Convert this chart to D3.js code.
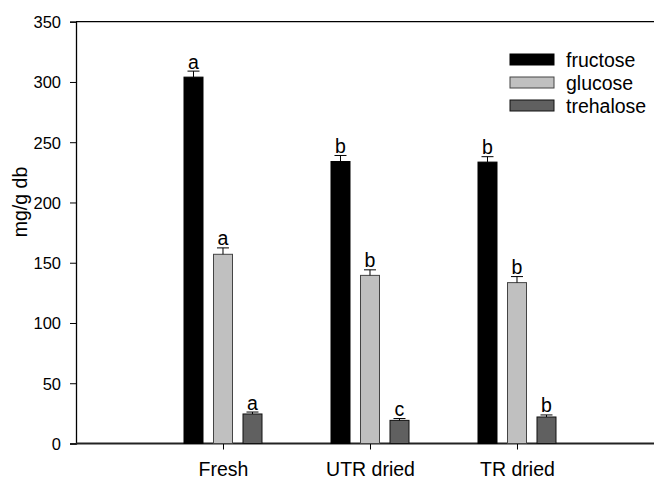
<!DOCTYPE html>
<html><head><meta charset="utf-8">
<script src="https://cdn.jsdelivr.net/npm/d3@7/dist/d3.min.js"></script>
<style>body{margin:0;background:#fff}svg{display:block}text{font-family:Arial,"Liberation Sans",sans-serif;fill:#000}</style>
</head><body><svg id="c" width="654" height="480"></svg>
<script>
const categories = ["Fresh", "UTR dried", "TR dried"];
const seriesNames = ["fructose", "glucose", "trehalose"];
const fructose = [304, 234, 233.5];
const glucose = [157, 139.5, 133.5];
const trehalose = [24.5, 19.2, 22];
const fructoseErr = [5, 5, 4.5];
const glucoseErr = [5.3, 4.6, 5];
const trehaloseErr = [1.6, 1.5, 1.7];
const fructoseLetters = ["a", "b", "b"];
const glucoseLetters = ["a", "b", "b"];
const trehaloseLetters = ["a", "c", "b"];
const yTicks = [0, 50, 100, 150, 200, 250, 300, 350];

const colors = ["#000000", "#c0c0c0", "#606060"];
const strokes = ["#000000", "#444444", "#111111"];
const values = [fructose, glucose, trehalose];
const errs = [fructoseErr, glucoseErr, trehaloseErr];
const letters = [fructoseLetters, glucoseLetters, trehaloseLetters];

const FONT = "Arial, 'Liberation Sans', sans-serif";
const svg = d3.select("#c");
const L = 76, R = 654, T = 21.7, B = 443.5;
const y = d3.scaleLinear().domain([0, 350]).range([B, T]);
const x = d3.scaleLinear().domain([0, 3.932]).range([L, R]);
const barW = 19, step = 29.5;

// top frame line
svg.append("line").attr("x1", L).attr("x2", R).attr("y1", T).attr("y2", T)
  .attr("stroke", "#000").attr("stroke-width", 1.3);

// y axis
const ya = svg.append("g").attr("transform", `translate(${L},0)`)
  .call(d3.axisLeft(y).tickValues(yTicks).tickSize(6).tickPadding(9).tickFormat(d3.format("d")));
ya.select(".domain").attr("stroke", "#000").attr("stroke-width", 1.3);
ya.selectAll(".tick line").attr("stroke", "#000").attr("stroke-width", 1);
ya.selectAll("text").attr("x", -15).attr("dy", "0.36em")
  .style("font-size", "16.5px").style("font-family", FONT).attr("fill", "#000");

// x axis
const xa = svg.append("g").attr("transform", `translate(0,${B})`)
  .call(d3.axisBottom(x).tickValues([1, 2, 3]).tickSize(6).tickPadding(16).tickFormat(d => categories[d - 1]));
xa.select(".domain").attr("d", `M${L},0H${R}`).attr("stroke", "#222").attr("stroke-width", 1.8);
xa.selectAll(".tick line").attr("stroke", "#000").attr("stroke-width", 1);
xa.selectAll("text").attr("y", 19)
  .style("font-size", "19.5px").style("font-family", FONT).attr("fill", "#000");

// y label
svg.append("text").attr("transform", "translate(27,202) rotate(-90)")
  .attr("text-anchor", "middle").style("font-size", "19.5px").text("mg/g db");

// bars
values.forEach((vals, s) => {
  const g = svg.append("g");
  vals.forEach((v, i) => {
    const cx = x(i + 1) + (s - 1) * step;
    g.append("rect").attr("x", cx - barW / 2).attr("width", barW)
      .attr("y", y(v)).attr("height", y(0) - y(v))
      .attr("fill", colors[s]).attr("stroke", strokes[s]).attr("stroke-width", 1);
    const top = y(v + errs[s][i]);
    g.append("line").attr("x1", cx).attr("x2", cx).attr("y1", y(v)).attr("y2", top)
      .attr("stroke", "#000").attr("stroke-width", 1);
    g.append("line").attr("x1", cx - 6).attr("x2", cx + 6).attr("y1", top).attr("y2", top)
      .attr("stroke", "#000").attr("stroke-width", 1);
    g.append("text").attr("x", cx).attr("y", top - 2.5)
      .attr("text-anchor", "middle").style("font-size", "19.5px").text(letters[s][i]);
  });
});

// legend
const lg = svg.append("g");
seriesNames.forEach((n, s) => {
  const yy = 54 + s * 23;
  lg.append("rect").attr("x", 510).attr("y", yy).attr("width", 44).attr("height", 11)
    .attr("fill", colors[s]).attr("stroke", strokes[s]).attr("stroke-width", 1);
  lg.append("text").attr("x", 566).attr("y", yy + 12.5)
    .style("font-size", "19.5px").text(n);
});
</script></body></html>
